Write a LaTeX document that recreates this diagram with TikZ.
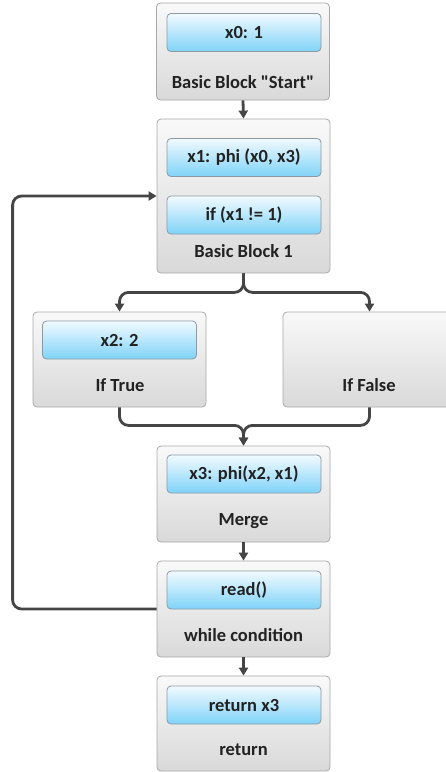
\documentclass[tikz,border=0pt]{standalone}
\usepackage{fontspec}
\setmainfont{Carlito}[Ligatures=TeXOff]
\usetikzlibrary{arrows.meta}
\definecolor{txt}{HTML}{222222}
\definecolor{obord}{HTML}{A8A8A8}
\definecolor{otop}{HTML}{F9F9F9}
\definecolor{obot}{HTML}{D9D9D9}
\definecolor{ibord}{HTML}{8C9AA6}
\definecolor{itop}{HTML}{F2FAFF}
\definecolor{ibot}{HTML}{7FD3F8}
\definecolor{conncol}{HTML}{454545}
\begin{document}
\begin{tikzpicture}[x=1pt,y=-1pt,
  outerbox/.style={draw=obord, line width=0.8pt, rounded corners=4pt, top color=otop, bottom color=obot, minimum width=173pt, inner sep=0pt},
  innerbox/.style={draw=ibord, line width=0.8pt, rounded corners=4pt, top color=itop, bottom color=ibot, minimum width=154pt, minimum height=38pt, inner sep=0pt, font=\bfseries\fontsize{18.5}{20}\selectfont, text=txt},
  lbl/.style={font=\bfseries\fontsize{18.5}{20}\selectfont, text=txt, inner sep=0pt},
  conn/.style={draw=conncol, line width=2.8pt, -{Triangle[length=8pt,width=9pt]}},
  flow/.style={conn, rounded corners=9pt}
]
\useasboundingbox (0,0) rectangle (446,772);
% outer boxes
\node[outerbox, minimum height=97pt] (st) at (243,51.5) {};
\node[outerbox, minimum height=154pt] (b1) at (243.5,196) {};
\node[outerbox, minimum height=95pt] (it) at (119.5,359.5) {};
\node[outerbox, minimum height=95pt] (if) at (369.5,359.5) {};
\node[outerbox, minimum height=96pt] (mg) at (243.5,494) {};
\node[outerbox, minimum height=96pt] (wc) at (243.5,609) {};
\node[outerbox, minimum height=95pt] (rt) at (243.5,723.5) {};
% inner boxes
\node[innerbox] (sti) at (244,32.5) {x0: 1};
\node[innerbox] (b1a) at (244,157.5) {x1: phi (x0, x3)};
\node[innerbox] (b1b) at (244,215) {if (x1 != 1)};
\node[innerbox] (iti) at (119.5,340) {x2: 2};
\node[innerbox] (mgi) at (244,474) {x3: phi(x2, x1)};
\node[innerbox] (wci) at (244,590) {read()};
\node[innerbox] (rti) at (244,705) {return x3};
% labels
\node[lbl] (stl) at (243,82) {Basic Block "Start"};
\node[lbl] (b1l) at (243.5,251) {Basic Block 1};
\node[lbl] (itl) at (120,385) {If True};
\node[lbl] (ifl) at (369,385) {If False};
\node[lbl] (mgl) at (243.5,521) {Merge};
\node[lbl] (wcl) at (243.5,635) {while condition};
\node[lbl] (rtl) at (243.5,750) {return};
% connectors
\draw[conn] (st.south) -- (b1.north);
\draw[flow] (b1.south) -- ++(0,19) -| (it.north);
\draw[flow] (b1.south) -- ++(0,19) -| (if.north);
\draw[flow] (it.south) -- ++(0,18) -| (mg.north);
\draw[flow] (if.south) -- ++(0,18) -| (mg.north);
\draw[conn] (mg.south) -- (wc.north);
\draw[conn] (wc.south) -- (rt.north);
\draw[flow] (wc.west) -- ++(-144,0) |- (b1.west);
\end{tikzpicture}
\end{document}
